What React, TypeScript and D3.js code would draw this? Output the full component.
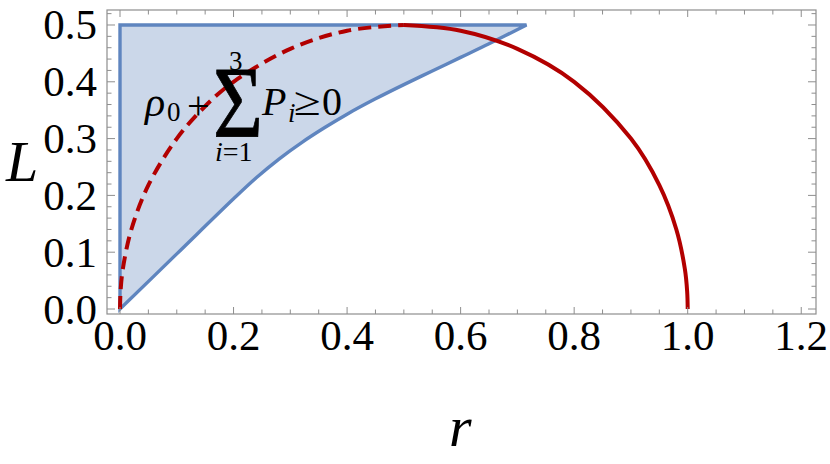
import React from "react";
import * as d3 from "d3";

// ---- data ----
const xTickValues = [0, 0.2, 0.4, 0.6, 0.8, 1.0, 1.2];
const xTickLabels = ["0.0", "0.2", "0.4", "0.6", "0.8", "1.0", "1.2"];
const yTickValues = [0, 0.1, 0.2, 0.3, 0.4, 0.5];
const yTickLabels = ["0.0", "0.1", "0.2", "0.3", "0.4", "0.5"];

// lower boundary of the region rho0 + sum P_i >= 0 (upper boundary is L = 0.5, left is r = 0)
const boundaryR = [0, 0.1, 0.2, 0.24, 0.28, 0.32, 0.36, 0.4, 0.45, 0.5, 0.55, 0.6, 0.65, 0.716];
const boundaryL = [0, 0.097, 0.194, 0.231, 0.264, 0.293, 0.319, 0.343, 0.37, 0.395, 0.419, 0.443, 0.467, 0.5];
const regionTopL = 0.5;

// red curve, dashed part (r <= 0.5)
const dashedR = [0, 0.001, 0.005, 0.02, 0.05, 0.1, 0.15, 0.2, 0.3, 0.4, 0.5];
const dashedL = [0, 0.0316, 0.0705, 0.14, 0.218, 0.3, 0.357, 0.4, 0.458, 0.49, 0.5];
// red curve, solid part (r >= 0.5)
const solidR = [0.5, 0.6, 0.7, 0.8, 0.9, 0.95, 0.98, 0.995, 0.999, 1];
const solidL = [0.5, 0.49, 0.458, 0.4, 0.3, 0.218, 0.14, 0.0705, 0.0316, 0];

const W = 830;
const H = 464;
const FONT = '"Liberation Serif", "DejaVu Serif", serif';
const FRAME = "#8e8e8e";
const BLUE_FILL = "#cbd7e9";
const BLUE_LINE = "#5f85bf";
const RED = "#b20000";

export default function App() {
  const x = d3.scaleLinear().domain([-0.0229, 1.226]).range([107, 816]);
  const y = d3.scaleLinear().domain([-0.0088, 0.5264]).range([314, 10]);
  const [x0, x1] = x.range();
  const [yb, yt] = y.range();

  const regionPts = boundaryR.map((r, i) => ({ r, l: boundaryL[i] }));
  const area = d3
    .area<{ r: number; l: number }>()
    .x((d) => x(d.r))
    .y0((d) => y(d.l))
    .y1(() => y(regionTopL))
    .curve(d3.curveCatmullRom.alpha(0.5));
  const regionPath = area(regionPts) || "";

  const redLine = d3
    .line<[number, number]>()
    .x((d) => x(d[0]))
    .y((d) => y(d[1]))
    .curve(d3.curveCatmullRom.alpha(0.5));
  const dashedPath = redLine(dashedR.map((r, i) => [r, dashedL[i]])) || "";
  const solidPath = redLine(solidR.map((r, i) => [r, solidL[i]])) || "";

  const xMinor = d3.range(0, 1.2001, 0.05).filter((v) => !xTickValues.some((t) => Math.abs(t - v) < 1e-6));
  const yMinor = d3.range(0, 0.5201, 0.02).filter((v) => !yTickValues.some((t) => Math.abs(t - v) < 1e-6));

  const majLen = 7;
  const minLen = 4.5;

  // inset label anchor (left edge of rho, baseline)
  const ax = x(0.044);
  const ay = y(0.342);
  const tf = { fontFamily: FONT };

  return (
    <svg
      width={W}
      height={H}
      viewBox={`0 0 ${W} ${H}`}
      style={{ position: "absolute", left: 0, top: 0, display: "block", background: "#fff", fontFamily: FONT }}
    >
      {/* region */}
      <path d={regionPath} fill={BLUE_FILL} stroke={BLUE_LINE} strokeWidth={3.4} strokeLinejoin="miter" />

      {/* red curve */}
      <path d={dashedPath} fill="none" stroke={RED} strokeWidth={4} strokeDasharray="13,7" />
      <path d={solidPath} fill="none" stroke={RED} strokeWidth={4} />

      {/* frame */}
      <rect x={x0} y={yt} width={x1 - x0} height={yb - yt} fill="none" stroke={FRAME} strokeWidth={1.2} />

      {/* x ticks bottom & top */}
      {xTickValues.map((t) => (
        <g key={"xt" + t}>
          <line x1={x(t)} x2={x(t)} y1={yb} y2={yb - majLen} stroke={FRAME} strokeWidth={1} />
          <line x1={x(t)} x2={x(t)} y1={yt} y2={yt + majLen} stroke={FRAME} strokeWidth={1} />
        </g>
      ))}
      {xMinor.map((t) => (
        <g key={"xm" + t}>
          <line x1={x(t)} x2={x(t)} y1={yb} y2={yb - minLen} stroke={FRAME} strokeWidth={1} />
          <line x1={x(t)} x2={x(t)} y1={yt} y2={yt + minLen} stroke={FRAME} strokeWidth={1} />
        </g>
      ))}
      {/* y ticks left & right */}
      {yTickValues.map((t) => (
        <g key={"yt" + t}>
          <line x1={x0} x2={x0 + majLen + 1} y1={y(t)} y2={y(t)} stroke={FRAME} strokeWidth={1} />
          <line x1={x1} x2={x1 - majLen - 1} y1={y(t)} y2={y(t)} stroke={FRAME} strokeWidth={1} />
        </g>
      ))}
      {yMinor.map((t) => (
        <g key={"ym" + t}>
          <line x1={x0} x2={x0 + minLen} y1={y(t)} y2={y(t)} stroke={FRAME} strokeWidth={1} />
          <line x1={x1} x2={x1 - minLen} y1={y(t)} y2={y(t)} stroke={FRAME} strokeWidth={1} />
        </g>
      ))}

      {/* tick labels */}
      {xTickValues.map((t, i) => (
        <text key={"xl" + t} x={x(t)} y={350} textAnchor="middle" fontSize={43} fill="#000" style={tf}>
          {xTickLabels[i]}
        </text>
      ))}
      {yTickValues.map((t, i) => (
        <text key={"yl" + t} x={97} y={y(t) + 14.5} textAnchor="end" fontSize={43} fill="#000" style={tf}>
          {yTickLabels[i]}
        </text>
      ))}

      {/* axis labels */}
      <text x={6} y={181} fontSize={58} fontStyle="italic" fill="#000" style={tf}>L</text>
      <text x={449} y={446} fontSize={58} fontStyle="italic" fill="#000" style={tf}>r</text>

      {/* inset label: rho_0 + sum_{i=1}^{3} P_i >= 0 */}
      <g fill="#000" style={tf}>
        <text x={ax} y={ay + 1} fontSize={42} fontStyle="italic" style={tf}>ρ</text>
        <text x={ax + 22} y={ay + 6} fontSize={27} style={tf}>0</text>
        <text x={ax + 42} y={ay + 4} fontSize={40} style={tf}>+</text>
        <text x={ax + 68} y={ay + 22} fontSize={102} textLength={50} lengthAdjust="spacingAndGlyphs" stroke="#000" strokeWidth={0.8} style={tf}>Σ</text>
        <text x={ax + 84} y={ay - 45} fontSize={27} style={tf}>3</text>
        <text x={ax + 70} y={ay + 46} fontSize={28} style={tf}>
          <tspan fontStyle="italic">i</tspan>
          <tspan>=1</tspan>
        </text>
        <text x={ax + 117} y={ay} fontSize={40} fontStyle="italic" style={tf}>P</text>
        <text x={ax + 143} y={ay + 7} fontSize={27} fontStyle="italic" style={tf}>i</text>
        <text x={ax + 149} y={ay} fontSize={40} textLength={27} lengthAdjust="spacingAndGlyphs" style={tf}>≥</text>
        <text x={ax + 177} y={ay} fontSize={40} style={tf}>0</text>
      </g>
    </svg>
  );
}
